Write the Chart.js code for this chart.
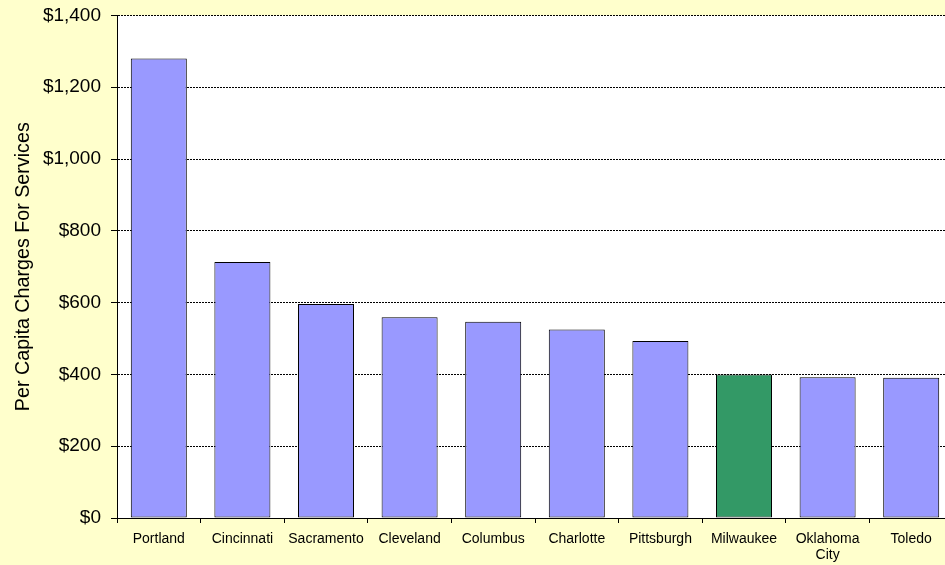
<!DOCTYPE html>
<html>
<head>
<meta charset="utf-8">
<script src="https://cdn.jsdelivr.net/npm/chart.js@4/dist/chart.umd.min.js"></script>
<style>
  html, body { margin:0; padding:0; overflow:hidden; background:#FFFFCC; width:945px; height:565px; }
  #wrap { position:relative; width:945px; height:565px; overflow:hidden; }
  #c { position:absolute; left:0; top:-6px; }
</style>
</head>
<body>
<div id="wrap"><canvas id="c" width="953" height="571" style="width:953px;height:571px"></canvas></div>
<script>
const categories = ["Portland", "Cincinnati", "Sacramento", "Cleveland", "Columbus", "Charlotte", "Pittsburgh", "Milwaukee", ["Oklahoma", "City"], "Toledo"];
const chargesPerCapita = [1280, 713, 596, 559, 547, 525, 493, 400, 392, 391];
const barColors = ["#9999FF", "#9999FF", "#9999FF", "#9999FF", "#9999FF", "#9999FF", "#9999FF", "#339966", "#9999FF", "#9999FF"];
const yTitle = "Per Capita Charges For Services";

const plotBg = {
  id: 'plotBg',
  beforeDraw(chart) {
    const {ctx, chartArea:a} = chart;
    ctx.save();
    ctx.fillStyle = '#FFFFFF';
    ctx.fillRect(a.left, a.top, a.right - a.left, a.bottom - a.top);
    ctx.restore();
  }
};

new Chart(document.getElementById('c'), {
  type: 'bar',
  data: {
    labels: categories,
    datasets: [{
      data: chargesPerCapita,
      backgroundColor: barColors,
      borderColor: '#000000',
      borderWidth: 1,
      borderSkipped: false,
      categoryPercentage: 1.0,
      barPercentage: 0.67
    }]
  },
  options: {
    responsive: false,
    animation: false,
    devicePixelRatio: 1,
    layout: { padding: { top: 9, left: 0, right: 0, bottom: 0 } },
    plugins: { legend: { display: false }, tooltip: { enabled: false } },
    scales: {
      x: {
        grid: { display: true, drawOnChartArea: false, offset: true, color: '#000000', tickLength: 5, lineWidth: 1 },
        border: { display: true, color: '#000000', width: 1 },
        ticks: { color: '#000000', font: { family: 'Liberation Sans, Arial', size: 14, lineHeight: 1.15 }, padding: 8, maxRotation: 0, autoSkip: false },
        afterFit(s) { s.height = 47; }
      },
      y: {
        min: 0, max: 1400,
        ticks: {
          stepSize: 200,
          color: '#000000',
          font: { family: 'Liberation Sans, Arial', size: 19 },
          padding: 10,
          callback: v => '$' + v.toLocaleString('en-US')
        },
        grid: { color: '#000000', lineWidth: 1, tickLength: 6, tickColor: '#000000', tickBorderDash: [] },
        border: { display: true, color: '#000000', width: 1, dash: [2, 1] },
        title: { display: true, text: yTitle, color: '#000000', font: { family: 'Liberation Sans, Arial', size: 19.7 }, padding: { top: 12, bottom: 0 } },
        afterFit(s) { s.width = 117; }
      }
    }
  },
  plugins: [plotBg]
});
</script>
</body>
</html>
